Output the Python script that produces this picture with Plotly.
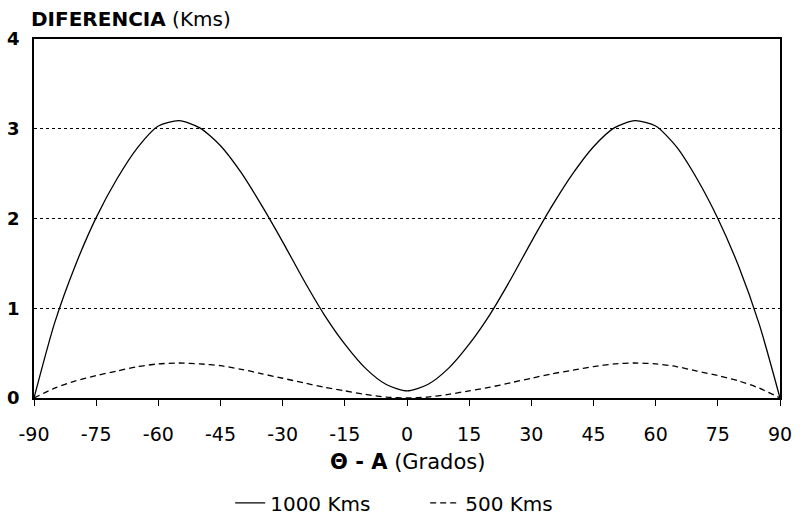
import plotly.graph_objects as go

# Angle theta - A (degrees)
angles = [-90, -85, -80, -75, -70, -65, -60, -55, -50, -45, -40, -35, -30, -25, -20, -15, -10, -5,
          0, 5, 10, 15, 20, 25, 30, 35, 40, 45, 50, 55, 60, 65, 70, 75, 80, 85, 90]

# Difference (Kms) for 1000 Kms
diff_1000 = [0.0, 0.84, 1.48, 2.01, 2.44, 2.79, 3.03, 3.09, 3.01, 2.81, 2.51, 2.14, 1.74, 1.32, 0.93, 0.60, 0.33, 0.15,
             0.08, 0.15, 0.33, 0.60, 0.93, 1.32, 1.74, 2.14, 2.50, 2.80, 3.01, 3.09, 3.03, 2.80, 2.44, 2.00, 1.47, 0.82, 0.0]

# Difference (Kms) for 500 Kms
diff_500 = [0.0, 0.11, 0.19, 0.25, 0.30, 0.35, 0.38, 0.39, 0.38, 0.36, 0.32, 0.27, 0.22, 0.17, 0.12, 0.08, 0.04, 0.01,
            0.0, 0.01, 0.04, 0.08, 0.12, 0.17, 0.22, 0.27, 0.31, 0.35, 0.38, 0.39, 0.38, 0.35, 0.30, 0.25, 0.19, 0.11, 0.0]

x_tick_vals = [-90, -75, -60, -45, -30, -15, 0, 15, 30, 45, 60, 75, 90]
x_tick_text = ["-90", "-75", "-60", "-45", "-30", "-15", "0", "15", "30", "45", "60", "75", "90"]
y_tick_vals = [0, 1, 2, 3, 4]
y_tick_text = ["<b>0</b>", "<b>1</b>", "<b>2</b>", "<b>3</b>", "<b>4</b>"]

FONT = "DejaVu Sans, Liberation Sans, Arial, sans-serif"

fig = go.Figure()
fig.add_trace(go.Scatter(x=angles, y=diff_1000, mode="lines", name="1000 Kms",
                         line=dict(color="black", width=1.3, shape="spline", smoothing=0.7)))
fig.add_trace(go.Scatter(x=angles, y=diff_500, mode="lines", name="500 Kms",
                         line=dict(color="black", width=1.3, dash="6px,4px", shape="spline", smoothing=0.7)))

fig.update_layout(
    width=801, height=519,
    margin=dict(l=34, r=21, t=39, b=121),
    paper_bgcolor="white", plot_bgcolor="white",
    font=dict(family=FONT, size=18, color="black"),
    showlegend=True,
    legend=dict(orientation="h", x=0.263, xanchor="left", xref="paper",
                y=0.031, yanchor="middle", yref="container",
                entrywidth=150, entrywidthmode="pixels",
                font=dict(size=20), bgcolor="rgba(0,0,0,0)"),
    xaxis=dict(range=[-90, 90], tickmode="array", tickvals=x_tick_vals, ticktext=x_tick_text,
               ticks="outside", ticklen=6, tickwidth=1, tickcolor="black",
               showline=True, linecolor="black", linewidth=1.5, mirror=True,
               showgrid=False, zeroline=False, ticklabelstandoff=12, automargin=False,
               tickfont=dict(size=19)),
    yaxis=dict(range=[0, 4], tickmode="array", tickvals=y_tick_vals, ticktext=y_tick_text,
               ticks="", showline=True, linecolor="black", linewidth=1.5, mirror=True,
               showgrid=True, gridcolor="black", griddash="dot", gridwidth=1,
               zeroline=False, ticklabelstandoff=9, automargin=False, tickfont=dict(size=18)),
    annotations=[
        dict(text="<b>DIFERENCIA</b> (Kms)", xref="paper", yref="paper", x=-0.007, y=1.095,
             xanchor="left", yanchor="top", showarrow=False, font=dict(size=20)),
        dict(text="<b>Θ - A</b> (Grados)", xref="paper", yref="paper", x=0.5, y=-0.178,
             xanchor="center", yanchor="middle", showarrow=False, font=dict(size=21)),
    ],
)

fig.write_html("out.html")
